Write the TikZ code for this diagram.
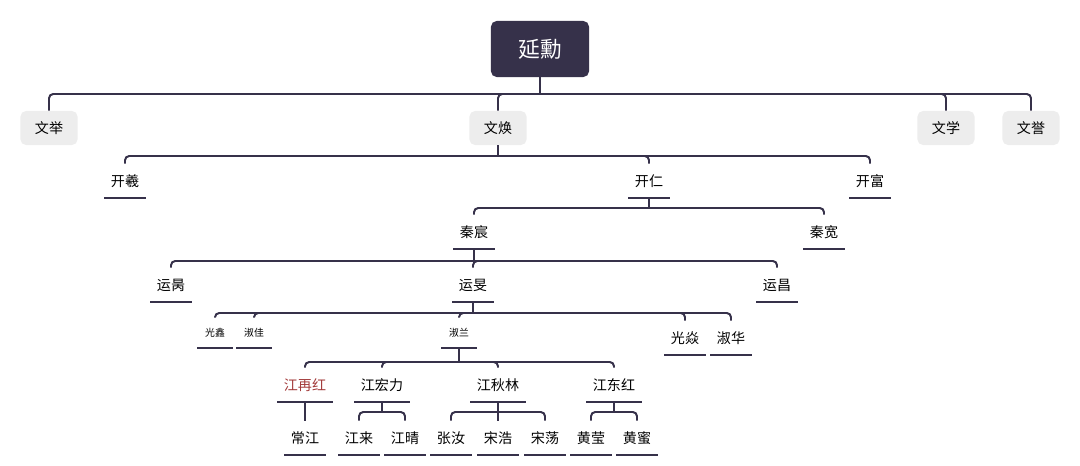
\documentclass[tikz,border=0pt]{standalone}
\usepackage{fontspec}
\setmainfont{Noto Sans CJK SC}
\definecolor{ink}{HTML}{36314A}
\definecolor{chip}{HTML}{EDEDED}
\definecolor{redname}{HTML}{A23A3A}
\tikzset{
  link/.style={draw=ink, line width=1.4pt, rounded corners=3pt},
  trunk/.style={draw=ink, line width=1.4pt},
  head/.style={fill=ink, text=white, rounded corners=4pt, minimum width=2.45cm, minimum height=1.4cm, font=\fontsize{15.5}{18}\selectfont},
  chip/.style={fill=chip, rounded corners=4pt, minimum width=1.43cm, minimum height=0.85cm, font=\fontsize{10}{12}\selectfont},
  tag/.style={minimum width=1.025cm, minimum height=0.85cm, inner sep=0pt, font=\fontsize{10}{12}\selectfont,
    append after command={(\tikzlastnode.south west) edge[trunk] (\tikzlastnode.south east)}},
  wide/.style={tag, minimum width=1.38cm},
  tiny/.style={tag, minimum width=0.87cm, minimum height=0.75cm, font=\fontsize{7}{9}\selectfont},
}
\begin{document}
\begin{tikzpicture}[x=0.025cm, y=-0.025cm]
    \useasboundingbox (0,0) rectangle (1080,466);

    % root and first generation
    \node[head] (yx) at (540,49) {延勳};
    \node[chip] (wj) at (49,128) {文举};
    \node[chip] (wh) at (498,128) {文焕};
    \node[chip] (wx) at (946,128) {文学};
    \node[chip] (wy) at (1031,128) {文誉};

    % second and third generation
    \node[tag] (kx) at (125,181) {开羲};
    \node[tag] (kr) at (649,181) {开仁};
    \node[tag] (kf) at (870,181) {开富};
    \node[tag] (qc) at (474,232) {秦宸};
    \node[tag] (qk) at (824,232) {秦宽};

    % fourth and fifth generation
    \node[tag] (yb) at (171,285) {运昺};
    \node[tag] (ym) at (473,285) {运旻};
    \node[tag] (yc) at (777,285) {运昌};
    \node[tiny] (gx) at (215,333) {光鑫};
    \node[tiny] (sj) at (254,333) {淑佳};
    \node[tiny] (sl) at (459,333) {淑兰};
    \node[tag] (gy) at (685,338) {光焱};
    \node[tag] (sh) at (731,338) {淑华};

    % sixth and seventh generation
    \node[wide, text=redname] (jz) at (305,385) {江再红};
    \node[wide] (jh) at (382,385) {江宏力};
    \node[wide] (jq) at (498,385) {江秋林};
    \node[wide] (jd) at (614,385) {江东红};
    \node[tag] (cj) at (305,438) {常江};
    \node[tag] (jl) at (359,438) {江来};
    \node[tag] (jw) at (405,438) {江晴};
    \node[tag] (zr) at (451,438) {张汝};
    \node[tag] (sa) at (498,438) {宋浩};
    \node[tag] (sd) at (545,438) {宋荡};
    \node[tag] (hy) at (591,438) {黄莹};
    \node[tag] (hm) at (637,438) {黄蜜};

    % bus lines
    \coordinate (b0) at (0,94);
    \coordinate (b1) at (0,156);
    \coordinate (b2) at (0,208);
    \coordinate (b3) at (0,261);
    \coordinate (b4) at (0,313);
    \coordinate (b5) at (0,362);
    \coordinate (b6) at (0,412);

    \draw[trunk] (yx.south) -- (yx.south |- b0);
    \foreach \c in {wj,wh,wx,wy}
        \draw[link] (yx.south |- b0) -| (\c.north);
    \draw[trunk] (wh.south) -- (wh.south |- b1);
    \foreach \c in {kx,kr,kf}
        \draw[link] (wh.south |- b1) -| (\c.north);
    \draw[trunk] (kr.south) -- (kr.south |- b2);
    \foreach \c in {qc,qk}
        \draw[link] (kr.south |- b2) -| (\c.north);
    \draw[trunk] (qc.south) -- (qc.south |- b3);
    \foreach \c in {yb,ym,yc}
        \draw[link] (qc.south |- b3) -| (\c.north);
    \draw[trunk] (ym.south) -- (ym.south |- b4);
    \foreach \c in {gx,sj,sl,gy,sh}
        \draw[link] (ym.south |- b4) -| (\c.north);
    \draw[trunk] (sl.south) -- (sl.south |- b5);
    \foreach \c in {jz,jh,jq,jd}
        \draw[link] (sl.south |- b5) -| (\c.north);
    \draw[trunk] (jz.south) -- (cj.north);
    \draw[trunk] (jh.south) -- (jh.south |- b6);
    \foreach \c in {jl,jw}
        \draw[link] (jh.south |- b6) -| (\c.north);
    \draw[trunk] (jq.south) -- (jq.south |- b6);
    \foreach \c in {zr,sa,sd}
        \draw[link] (jq.south |- b6) -| (\c.north);
    \draw[trunk] (jd.south) -- (jd.south |- b6);
    \foreach \c in {hy,hm}
        \draw[link] (jd.south |- b6) -| (\c.north);
\end{tikzpicture}
\end{document}
